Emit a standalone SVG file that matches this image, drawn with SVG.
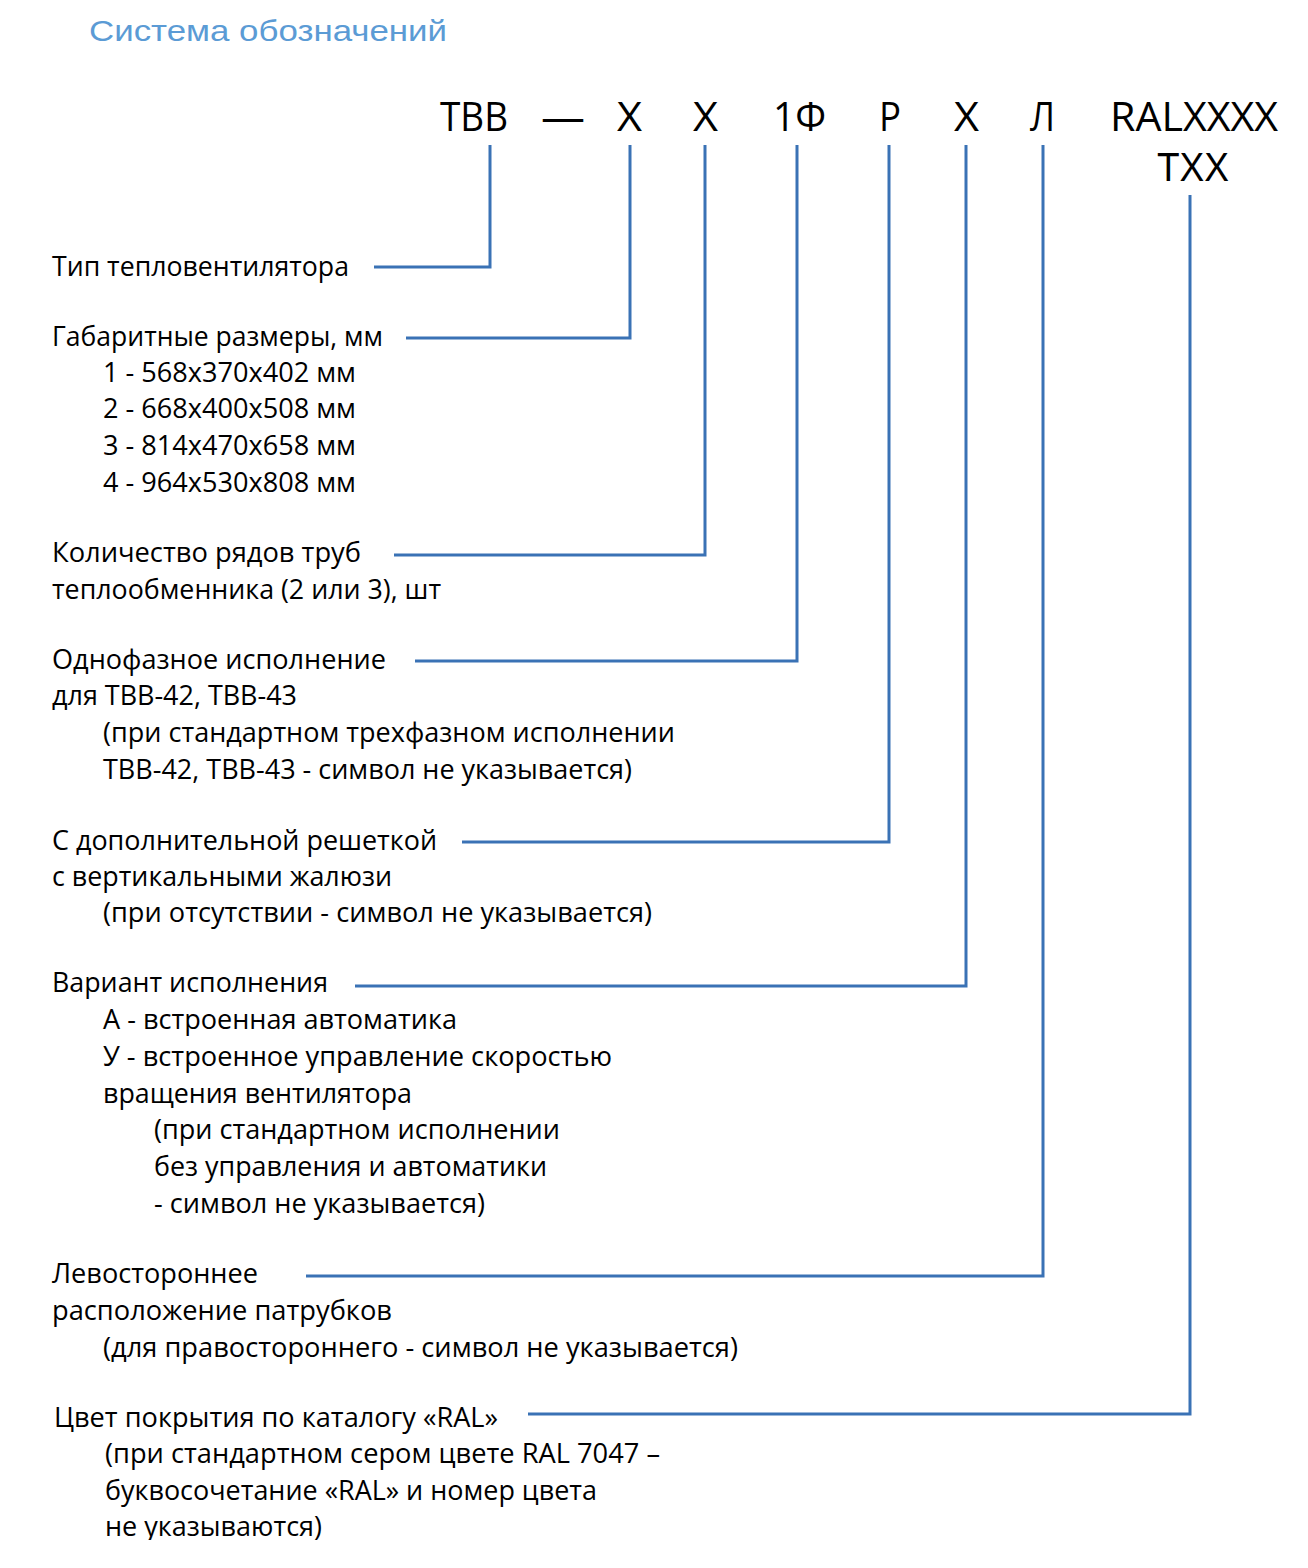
<svg xmlns="http://www.w3.org/2000/svg" width="1308" height="1568" viewBox="0 0 1308 1568">
<style>
.t{font-family:"Open Sans","Liberation Sans",sans-serif;font-size:27px;fill:#000}
.h{font-family:"Open Sans","Liberation Sans",sans-serif;font-size:40px;fill:#000}
.ttl{font-family:"Liberation Sans",Arial,sans-serif;font-size:30px;fill:#5b9bd5}
.c{fill:none;stroke:#3a72b5;stroke-width:3}
</style>
<defs>
<clipPath id="clipB"><rect x="0" y="0" width="1308" height="1540"/></clipPath>
</defs>
<rect width="1308" height="1568" fill="#fff"/>
<text class="ttl" x="89" y="41" textLength="358" lengthAdjust="spacingAndGlyphs">Система обозначений</text>
<g id="header">
<text class="h" x="440" y="131" textLength="68" lengthAdjust="spacingAndGlyphs">ТВВ</text>
<text class="h" x="541" y="131" textLength="44" lengthAdjust="spacingAndGlyphs">—</text>
<text class="h" x="617" y="131" textLength="25" lengthAdjust="spacingAndGlyphs">X</text>
<text class="h" x="693" y="131" textLength="25" lengthAdjust="spacingAndGlyphs">X</text>
<text class="h" x="773" y="131" textLength="53" lengthAdjust="spacingAndGlyphs">1Ф</text>
<text class="h" x="879" y="131" textLength="22" lengthAdjust="spacingAndGlyphs">Р</text>
<text class="h" x="954" y="131" textLength="25" lengthAdjust="spacingAndGlyphs">X</text>
<text class="h" x="1030" y="131" textLength="25" lengthAdjust="spacingAndGlyphs">Л</text>
<text class="h" x="1110" y="131" textLength="168" lengthAdjust="spacingAndGlyphs">RALXXXX</text>
<text x="1157" y="181" font-family="Liberation Sans, Arial, sans-serif" font-size="40" textLength="72" lengthAdjust="spacingAndGlyphs">TXX</text>
</g>
<g id="connectors">
<polyline class="c" points="490,145 490,267 374,267"/>
<polyline class="c" points="630,145 630,338 406,338"/>
<polyline class="c" points="705,145 705,555 394,555"/>
<polyline class="c" points="797,145 797,661 415,661"/>
<polyline class="c" points="889,145 889,842 462,842"/>
<polyline class="c" points="966,145 966,986 355,986"/>
<polyline class="c" points="1043,145 1043,1276 306,1276"/>
<polyline class="c" points="1190,195 1190,1414 528,1414"/>
</g>
<g id="n1"><text class="t" x="52" y="276" textLength="297" lengthAdjust="spacingAndGlyphs">Тип тепловентилятора</text></g>
<g id="n2">
<text class="t" x="52" y="346" textLength="331" lengthAdjust="spacingAndGlyphs">Габаритные размеры, мм</text>
<text class="t" x="103" y="382" textLength="253" lengthAdjust="spacingAndGlyphs">1 - 568x370x402 мм</text>
<text class="t" x="103" y="418" textLength="253" lengthAdjust="spacingAndGlyphs">2 - 668x400x508 мм</text>
<text class="t" x="103" y="455" textLength="253" lengthAdjust="spacingAndGlyphs">3 - 814x470x658 мм</text>
<text class="t" x="103" y="492" textLength="253" lengthAdjust="spacingAndGlyphs">4 - 964x530x808 мм</text>
</g>
<g id="n3">
<text class="t" x="52" y="562" textLength="309" lengthAdjust="spacingAndGlyphs">Количество рядов труб</text>
<text class="t" x="52" y="599" textLength="389" lengthAdjust="spacingAndGlyphs">теплообменника (2 или 3), шт</text>
</g>
<g id="n4">
<text class="t" x="52" y="669" textLength="334" lengthAdjust="spacingAndGlyphs">Однофазное исполнение</text>
<text class="t" x="52" y="705" textLength="245" lengthAdjust="spacingAndGlyphs">для ТВВ-42, ТВВ-43</text>
<text class="t" x="103" y="742" textLength="572" lengthAdjust="spacingAndGlyphs">(при стандартном трехфазном исполнении</text>
<text class="t" x="103" y="779" textLength="529" lengthAdjust="spacingAndGlyphs">ТВВ-42, ТВВ-43 - символ не указывается)</text>
</g>
<g id="n5">
<text class="t" x="52" y="850" textLength="385" lengthAdjust="spacingAndGlyphs">С дополнительной решеткой</text>
<text class="t" x="52" y="886" textLength="340" lengthAdjust="spacingAndGlyphs">с вертикальными жалюзи</text>
<text class="t" x="103" y="922" textLength="549" lengthAdjust="spacingAndGlyphs">(при отсутствии - символ не указывается)</text>
</g>
<g id="n6">
<text class="t" x="52" y="992" textLength="276" lengthAdjust="spacingAndGlyphs">Вариант исполнения</text>
<text class="t" x="103" y="1029" textLength="354" lengthAdjust="spacingAndGlyphs">А - встроенная автоматика</text>
<text class="t" x="103" y="1066" textLength="509" lengthAdjust="spacingAndGlyphs">У - встроенное управление скоростью</text>
<text class="t" x="103" y="1103" textLength="309" lengthAdjust="spacingAndGlyphs">вращения вентилятора</text>
<text class="t" x="154" y="1139" textLength="406" lengthAdjust="spacingAndGlyphs">(при стандартном исполнении</text>
<text class="t" x="154" y="1176" textLength="393" lengthAdjust="spacingAndGlyphs">без управления и автоматики</text>
<text class="t" x="154" y="1213" textLength="331" lengthAdjust="spacingAndGlyphs">- символ не указывается)</text>
</g>
<g id="n7">
<text class="t" x="52" y="1283" textLength="206" lengthAdjust="spacingAndGlyphs">Левостороннее</text>
<text class="t" x="52" y="1320" textLength="340" lengthAdjust="spacingAndGlyphs">расположение патрубков</text>
<text class="t" x="103" y="1357" textLength="635" lengthAdjust="spacingAndGlyphs">(для правостороннего - символ не указывается)</text>
</g>
<g id="n8" clip-path="url(#clipB)">
<text class="t" x="54" y="1427" textLength="444" lengthAdjust="spacingAndGlyphs">Цвет покрытия по каталогу «RAL»</text>
<text class="t" x="105" y="1463" textLength="555" lengthAdjust="spacingAndGlyphs">(при стандартном сером цвете RAL 7047 –</text>
<text class="t" x="105" y="1500" textLength="492" lengthAdjust="spacingAndGlyphs">буквосочетание «RAL» и номер цвета</text>
<text class="t" x="105" y="1536" textLength="217" lengthAdjust="spacingAndGlyphs">не указываются)</text>
</g>
</svg>
